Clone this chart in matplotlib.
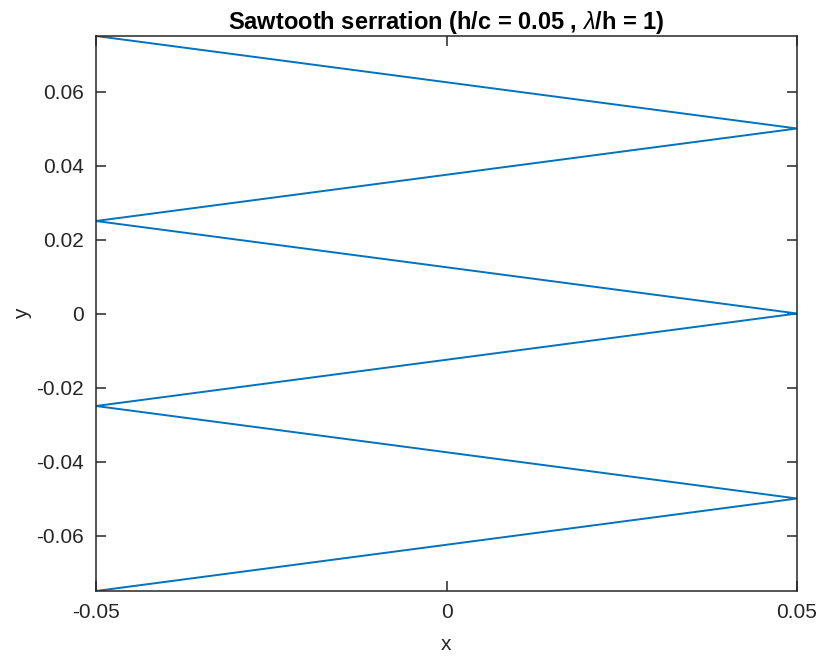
import numpy as np
import matplotlib.pyplot as plt

plt.rcParams['font.family'] = ['Liberation Sans', 'DejaVu Sans']
plt.rcParams['mathtext.fontset'] = 'custom'
plt.rcParams['mathtext.it'] = 'Liberation Sans:italic'

# Pontos da serrilha
x = [-0.05, 0.05, -0.05, 0.05, -0.05, 0.05, -0.05]
y = [0.075, 0.05, 0.025, 0.0, -0.025, -0.05, -0.075]

xticks = [-0.05, 0, 0.05]
xlabels = ['-0.05', '0', '0.05']
yticks = [-0.06, -0.04, -0.02, 0, 0.02, 0.04, 0.06]
ylabels = ['-0.06', '-0.04', '-0.02', '0', '0.02', '0.04', '0.06']

fig = plt.figure(figsize=(8.21, 6.56), dpi=100)
ax = fig.add_axes([96/821, 1-591/656, (797-96)/821, (591-36)/656])

ax.plot(x, y, color='#0072BD', linewidth=1.4)

ax.set_xlim(-0.05, 0.05)
ax.set_ylim(-0.075, 0.075)
ax.set_xticks(xticks)
ax.set_xticklabels(xlabels)
ax.set_yticks(yticks)
ax.set_yticklabels(ylabels)
ax.tick_params(direction='in', length=7, width=1.1, top=True, right=True,
               labelsize=15, colors='#262626', pad=9)
for s in ax.spines.values():
    s.set_linewidth(1.1)
    s.set_color('#262626')

ax.set_xlabel('x', fontsize=15, color='#262626', labelpad=9)
ax.set_ylabel('y', fontsize=15, color='#262626', labelpad=3)
ax.set_title(r'Sawtooth serration (h/c = 0.05 , $\lambda$/h = 1)',
             fontsize=17, fontweight='bold', pad=5)

plt.savefig('out.png', dpi=100)
